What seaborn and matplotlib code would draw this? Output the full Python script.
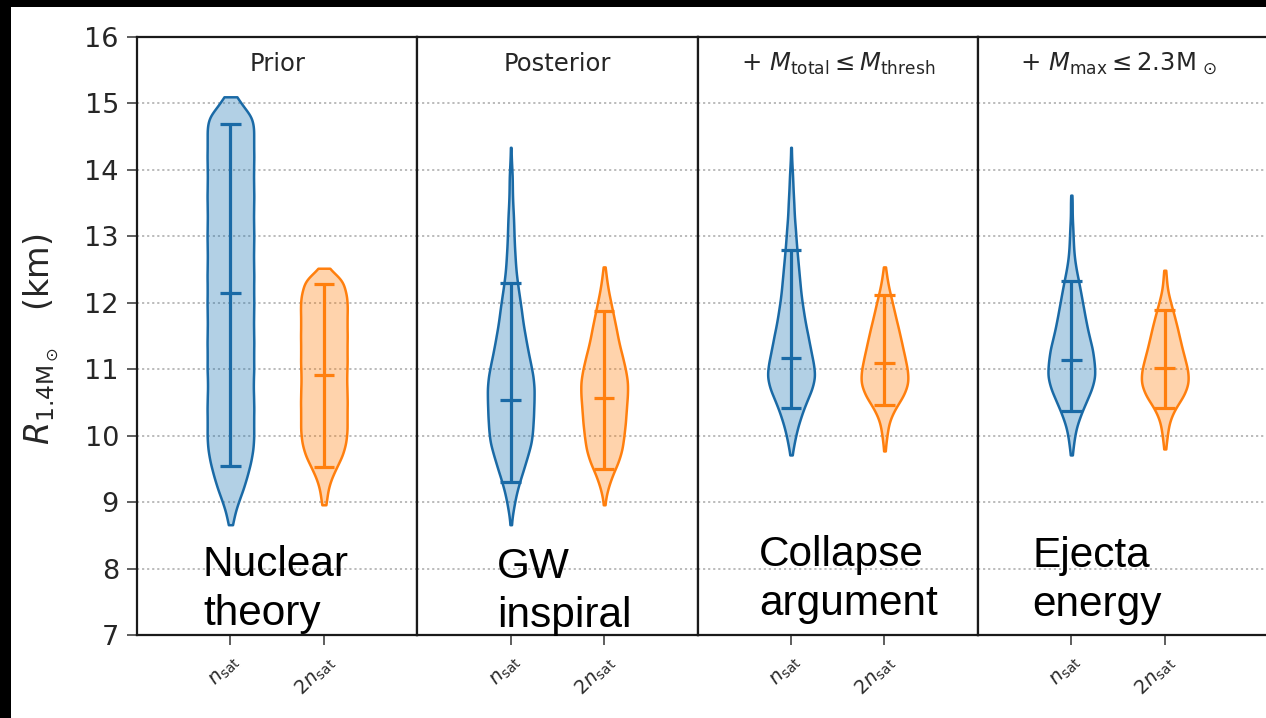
import numpy as np
import pandas as pd
import matplotlib
matplotlib.use("Agg")
import matplotlib.pyplot as plt
import seaborn as sns
from matplotlib.patches import Rectangle

# ---------------- data ----------------
panel_titles = ["Prior", "Posterior",
                r"$+\ M_{\rm total} \leq M_{\rm thresh}$",
                r"$+\ M_{\rm max} \leq 2.3{\rm M}_{\,\odot}$"]
constraint_labels = ["Nuclear\ntheory", "GW\ninspiral", "Collapse\nargument", "Ejecta\nenergy"]
density_labels = [r"$n_{\rm sat}$", r"$2n_{\rm sat}$"]
ytick_values = [7, 8, 9, 10, 11, 12, 13, 14, 15, 16]

# violin profiles: radius grid (km) and relative density
prior_n_r = [8.66, 8.8, 9.0, 9.2, 9.4, 9.6, 9.8, 10.0, 10.2, 10.4, 10.6, 10.8, 11.0, 11.2,
             11.4, 11.6, 11.8, 12.0, 12.2, 12.4, 12.6, 12.8, 13.0, 13.2, 13.4, 13.6, 13.8,
             14.0, 14.2, 14.4, 14.6, 14.8, 15.0, 15.1]
prior_n_w = [0.05, 0.15, 0.33, 0.55, 0.72, 0.86, 0.96, 1.0, 0.98, 1.0, 0.99, 0.97, 1.0, 0.98,
             1.0, 0.99, 0.98, 1.0, 0.99, 1.0, 0.98, 0.99, 1.0, 0.98, 0.99, 1.0, 0.99,
             0.98, 1.0, 0.99, 1.0, 0.95, 0.4, 0.08]
prior_2n_r = [8.96, 9.1, 9.3, 9.5, 9.7, 9.9, 10.1, 10.3, 10.5, 10.7, 10.9, 11.1, 11.3, 11.5,
              11.7, 11.9, 12.1, 12.3, 12.4, 12.52]
prior_2n_w = [0.06, 0.12, 0.25, 0.5, 0.8, 0.95, 1.0, 0.98, 1.0, 0.99, 0.97, 1.0, 0.98, 1.0,
              0.99, 1.0, 1.0, 0.75, 0.3, 0.03]

post_n_r = [8.66, 8.9, 9.1, 9.3, 9.5, 9.7, 9.9, 10.1, 10.3, 10.5, 10.7, 10.9, 11.1, 11.3,
            11.5, 11.7, 11.9, 12.1, 12.3, 12.5, 12.7, 12.9, 13.1, 13.3, 13.5, 13.7, 13.9,
            14.1, 14.34]
post_n_w = [0.03, 0.12, 0.22, 0.36, 0.55, 0.72, 0.88, 0.94, 0.96, 0.98, 1.0, 0.95, 0.83, 0.72,
            0.62, 0.52, 0.45, 0.36, 0.28, 0.22, 0.18, 0.15, 0.13, 0.11, 0.09, 0.07, 0.06,
            0.04, 0.02]
post_2n_r = [8.96, 9.2, 9.4, 9.6, 9.8, 10.0, 10.2, 10.4, 10.6, 10.8, 11.0, 11.2, 11.4, 11.6,
             11.8, 12.0, 12.2, 12.4, 12.54]
post_2n_w = [0.03, 0.15, 0.33, 0.6, 0.76, 0.84, 0.9, 0.94, 0.98, 1.0, 0.9, 0.76, 0.62, 0.52,
             0.4, 0.28, 0.17, 0.08, 0.02]

coll_n_r = [9.71, 9.9, 10.1, 10.3, 10.5, 10.7, 10.9, 11.1, 11.3, 11.5, 11.7, 11.9, 12.1, 12.3,
            12.5, 12.7, 12.9, 13.1, 13.3, 13.5, 13.7, 13.9, 14.1, 14.34]
coll_n_w = [0.04, 0.14, 0.25, 0.42, 0.62, 0.86, 1.0, 0.92, 0.8, 0.7, 0.58, 0.5, 0.42, 0.36,
            0.31, 0.27, 0.22, 0.18, 0.14, 0.11, 0.08, 0.06, 0.04, 0.02]
coll_2n_r = [9.77, 10.0, 10.2, 10.4, 10.6, 10.8, 11.0, 11.2, 11.4, 11.6, 11.8, 12.0, 12.2,
             12.4, 12.54]
coll_2n_w = [0.04, 0.1, 0.17, 0.4, 0.76, 0.97, 0.92, 0.8, 0.68, 0.57, 0.44, 0.31, 0.18,
             0.08, 0.02]

ej_n_r = [9.71, 9.9, 10.1, 10.3, 10.5, 10.7, 10.9, 11.1, 11.3, 11.5, 11.7, 11.9, 12.1, 12.3,
          12.5, 12.7, 12.9, 13.1, 13.3, 13.5, 13.62]
ej_n_w = [0.04, 0.1, 0.18, 0.36, 0.6, 0.85, 1.0, 0.95, 0.88, 0.74, 0.62, 0.52, 0.42, 0.31,
          0.2, 0.12, 0.08, 0.06, 0.04, 0.03, 0.02]
ej_2n_r = [9.8, 10.0, 10.2, 10.4, 10.6, 10.8, 11.0, 11.2, 11.4, 11.6, 11.8, 12.0, 12.2,
           12.4, 12.49]
ej_2n_w = [0.04, 0.1, 0.17, 0.38, 0.76, 0.97, 0.92, 0.76, 0.64, 0.52, 0.38, 0.23, 0.1,
           0.05, 0.02]

# lower / median / upper bars per panel: [n_sat, 2n_sat]
bar_low = [[9.54, 9.53], [9.30, 9.50], [10.42, 10.46], [10.37, 10.41]]
bar_med = [[12.15, 10.91], [10.54, 10.56], [11.17, 11.09], [11.14, 11.02]]
bar_high = [[14.69, 12.28], [12.30, 11.88], [12.79, 12.12], [12.33, 11.89]]

profiles = [[(prior_n_r, prior_n_w), (prior_2n_r, prior_2n_w)],
            [(post_n_r, post_n_w), (post_2n_r, post_2n_w)],
            [(coll_n_r, coll_n_w), (coll_2n_r, coll_2n_w)],
            [(ej_n_r, ej_n_w), (ej_2n_r, ej_2n_w)]]

colors = ["#1f77b4", "#ff7f0e"]
edge_colors = ["#1a6aa6", "#ff7f0e"]
cat_order = ["n", "2n"]

# ---------------- figure ----------------
sns.set_style("ticks")
plt.rcParams["font.family"] = ["DejaVu Sans"]
W, H = 1266, 718
fig = plt.figure(figsize=(W / 100, H / 100), dpi=100)

left0, top_px, bottom_px = 137.0, 37.0, 635.0
pw = 280.3
unit = pw / 3.0

for i in range(4):
    width_px = pw if i < 3 else 345.0
    ax = fig.add_axes([(left0 + i * pw) / W, 1 - bottom_px / H,
                       width_px / W, (bottom_px - top_px) / H])
    for j in range(2):
        r, w = profiles[i][j]
        samples = np.repeat(np.asarray(r, float),
                            np.maximum(1, np.rint(np.asarray(w) * 60).astype(int)))
        df = pd.DataFrame({"density": cat_order[j], "R": samples})
        n0 = len(ax.collections)
        sns.violinplot(data=df, x="density", y="R", order=cat_order, ax=ax,
                       color=colors[j], linecolor=edge_colors[j], saturation=1,
                       inner=None, cut=0, density_norm="width", width=0.5,
                       gridsize=250, linewidth=1.8,
                       bw_method=0.13 / np.std(samples))
        for coll in ax.collections[n0:]:
            coll.set_facecolor(matplotlib.colors.to_rgba(colors[j], 0.34))
            coll.set_edgecolor(edge_colors[j])
            coll.set_zorder(2)
        # quantile bars
        ax.vlines(j, bar_low[i][j], bar_high[i][j], color=edge_colors[j], lw=2.3, zorder=3)
        ax.hlines([bar_low[i][j], bar_med[i][j], bar_high[i][j]], j - 0.11, j + 0.11,
                  color=edge_colors[j], lw=2.3, zorder=3)

    ax.set_xlim(-1.0, -1.0 + width_px / unit)
    ax.set_ylim(7, 16)
    ax.set_xlabel("")
    ax.set_ylabel("")
    ax.set_yticks(ytick_values)
    ax.yaxis.grid(True, linestyle=(0, (1.2, 1.6)), color="#b5b5b5", linewidth=1.3)
    ax.xaxis.grid(False)
    ax.set_axisbelow(True)
    for s in ax.spines.values():
        s.set_linewidth(1.6)
        s.set_color("#1a1a1a")
    ax.set_xticks([0, 1])
    ax.set_xticklabels(density_labels, rotation=45, ha="right", va="top",
                       rotation_mode="anchor", fontsize=14, color="#2a2a2a")
    ax.tick_params(axis="x", length=7, width=1.1, color="#333333", pad=5)
    if i == 0:
        ax.tick_params(axis="y", length=7, width=1.1, color="#333333", pad=6,
                       labelsize=19.5, labelcolor="#262626")
    else:
        ax.tick_params(axis="y", left=False, labelleft=False)
    ax.text(0.5 * pw / width_px, 0.955, panel_titles[i], transform=ax.transAxes,
            ha="center", va="center", fontsize=17.5, color="#262626")

# y label
fig.text(41 / W, 1 - 339 / H, r"$R_{1.4\mathrm{M}_\odot}$   (km)", rotation=90,
         ha="center", va="center", fontsize=24, color="#262626")

# constraint annotations
label_pos = [(203, 545), (497, 547), (759, 535), (1032, 536)]
for (px, py), txt in zip(label_pos, constraint_labels):
    fig.text(px / W, 1 - py / H, txt, ha="left", va="top", fontsize=30.5,
             family=["Liberation Sans", "DejaVu Sans"], color="black", linespacing=1.3,
             zorder=10)

# black frame of the screenshot
fig.add_artist(Rectangle((0, 1 - 7 / H), 1, 7 / H, transform=fig.transFigure,
                         facecolor="black", edgecolor="none", zorder=20))
fig.add_artist(Rectangle((0, 0), 11 / W, 1, transform=fig.transFigure,
                         facecolor="black", edgecolor="none", zorder=20))

fig.savefig("out.png", dpi=100)
